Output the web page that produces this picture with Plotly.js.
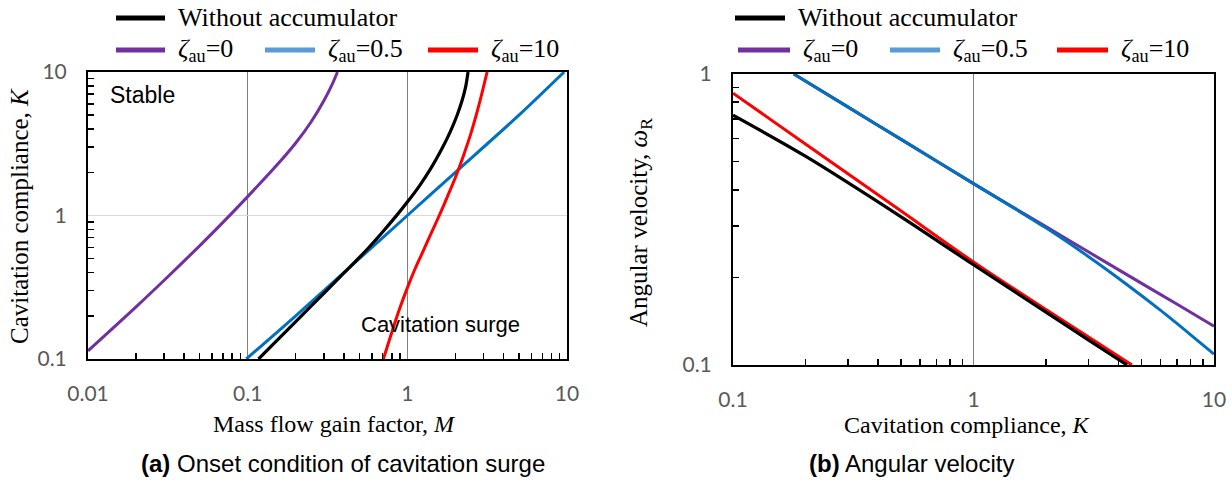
<!DOCTYPE html>
<html>
<head>
<meta charset="utf-8">
<script src="https://cdn.plot.ly/plotly-3.0.1.min.js"></script>
<style>
  html, body { margin: 0; padding: 0; background: #fff; }
  #chart { width: 1232px; height: 483px; }
</style>
</head>
<body>
<div id="chart"></div>
<script>
// ---------------- Data: panel (a) onset condition (M vs K) ----------------
const mNoAcc = [0.117, 0.15, 0.2, 0.3, 0.4, 0.555, 0.7, 0.85, 1.0, 1.2, 1.4, 1.63, 1.85, 2.05, 2.2, 2.32, 2.40];
const kNoAcc = [0.1, 0.132, 0.182, 0.287, 0.396, 0.575, 0.768, 0.99, 1.24, 1.63, 2.12, 2.86, 3.8, 5.0, 6.3, 7.9, 10];

const mZeta0 = [0.01, 0.02, 0.03, 0.05, 0.07, 0.1, 0.15, 0.2, 0.25, 0.3, 0.34, 0.365];
const kZeta0 = [0.114, 0.231, 0.354, 0.614, 0.895, 1.354, 2.2, 3.2, 4.5, 6.3, 8.3, 10];

const mZeta05 = [0.098, 0.2, 0.5, 1.0, 2.0, 5.0, 9.6];
const kZeta05 = [0.1, 0.2, 0.5, 1.0, 2.0, 5.0, 10];

const mZeta10 = [0.708, 0.794, 0.891, 1.0, 1.12, 1.26, 1.41, 1.585, 1.78, 2.0, 2.24, 2.51, 2.82, 3.16];
const kZeta10 = [0.1, 0.15, 0.221, 0.313, 0.427, 0.569, 0.752, 1.0, 1.35, 1.84, 2.59, 3.78, 5.99, 10];

// ---------------- Data: panel (b) angular velocity (K vs omega_R) ----------------
const kbNoAcc = [0.1, 0.2, 0.5, 1.0, 2.0, 3.0, 4.35];
const wNoAcc  = [0.722, 0.522, 0.323, 0.221, 0.152, 0.122, 0.1];

const kbZeta0 = [0.179, 0.3, 0.5, 1.0, 2.0, 3.0, 4.27, 7.0, 10];
const wZeta0  = [1.0, 0.771, 0.596, 0.42, 0.299, 0.245, 0.206, 0.162, 0.136];

const kbZeta05 = [0.179, 0.3, 0.5, 1.0, 2.0, 3.0, 4.27, 6.0, 8.0, 10];
const wZeta05  = [1.0, 0.771, 0.596, 0.42, 0.296, 0.236, 0.191, 0.154, 0.127, 0.109];

const kbZeta10 = [0.1, 0.2, 0.5, 1.0, 2.0, 4.56];
const wZeta10  = [0.859, 0.575, 0.338, 0.226, 0.155, 0.1];

// ---------------- Labels ----------------
const seriesNames = ['Without accumulator', '<i>ζ</i><sub>au</sub>=0', '<i>ζ</i><sub>au</sub>=0.5', '<i>ζ</i><sub>au</sub>=10'];
const xTicksA = [0.01, 0.1, 1, 10];
const xTickTextA = ['0.01', '0.1', '1', '10'];
const yTicksA = [0.1, 1, 10];
const yTickTextA = ['0.1', '1', '10'];
const xTicksB = [0.1, 1, 10];
const xTickTextB = ['0.1', '1', '10'];
const yTicksB = [0.1, 1];
const yTickTextB = ['0.1', '1'];

// ---------------- Styling ----------------
const W = 1232, H = 483;
const px = x => x / W;
const py = y => 1 - y / H;
const C_BLACK = '#000000', C_PURPLE = '#7030A0', C_BLUE = '#0070C0', C_RED = '#FF0000';
const C_BLUE_KEY = '#5B9BD5';
const SERIF = '"Liberation Serif", "Times New Roman", serif';
const SANS = '"Liberation Sans", Arial, sans-serif';
const TICKF = 'Lato, "Liberation Sans", sans-serif';

function minorVals(lo, hi) {
  const v = [];
  for (let e = lo; e < hi; e++) for (let d = 2; d <= 9; d++) v.push(d * Math.pow(10, e));
  return v;
}

function line(x, y, color, xa, ya, w) {
  return { x: x, y: y, xaxis: xa, yaxis: ya, type: 'scatter', mode: 'lines',
           line: { color: color, width: w || 3, shape: 'spline', smoothing: 0.8 },
           showlegend: false, hoverinfo: 'skip' };
}

const traces = [
  line(mZeta0, kZeta0, C_PURPLE, 'x', 'y'),
  line(mZeta05, kZeta05, C_BLUE, 'x', 'y'),
  line(mZeta10, kZeta10, C_RED, 'x', 'y'),
  line(mNoAcc, kNoAcc, C_BLACK, 'x', 'y', 3.2),
  line(kbZeta0, wZeta0, C_PURPLE, 'x2', 'y2'),
  line(kbZeta05, wZeta05, C_BLUE, 'x2', 'y2'),
  line(kbZeta10, wZeta10, C_RED, 'x2', 'y2'),
  line(kbNoAcc, wNoAcc, C_BLACK, 'x2', 'y2', 3.2)
];

function axis(domain, range, tv, tt, lo, hi, grid, gridcolor, anchor) {
  return {
    type: 'log', domain: domain, range: range, anchor: anchor,
    tickmode: 'array', tickvals: tv, ticktext: tt,
    ticks: '', showline: true, linecolor: '#000', linewidth: 2, mirror: true,
    showgrid: grid, gridcolor: gridcolor, gridwidth: 1.6,
    tickfont: { family: TICKF, size: 21, color: '#595959' },
    ticklabelstandoff: 15,
    zeroline: false, fixedrange: true,
    minor: { tickmode: 'array', tickvals: minorVals(lo, hi), ticks: 'inside',
             ticklen: 6, tickwidth: 1.5, tickcolor: '#000', showgrid: false }
  };
}

const xA = axis([px(88), px(567)], [-2, 1], xTicksA, xTickTextA, -2, 1, true, '#808080', 'y');
const yA = axis([py(359), py(72)], [-1, 1], yTicksA, yTickTextA, -1, 1, true, '#d9d9d9', 'x');
const xB = axis([px(733), px(1214)], [-1, 1], xTicksB, xTickTextB, -1, 1, true, '#808080', 'y2');
const yB = axis([py(365), py(74)], [-1, 0], yTicksB, yTickTextB, -1, 0, false, '#d9d9d9', 'x2');

// legend keys (drawn as layout shapes) and texts
const shapes = [];
const annotations = [];
function key(x0, x1, y, color, label) {
  shapes.push({ type: 'line', xref: 'paper', yref: 'paper', x0: px(x0), x1: px(x1), y0: py(y), y1: py(y),
                line: { color: color, width: 5 } });
  annotations.push({ xref: 'paper', yref: 'paper', x: px(x1 + 11), y: py(y), xanchor: 'left', yanchor: 'middle',
                     text: label, showarrow: false, font: { family: SERIF, size: 26, color: '#000' } });
}
key(116, 165, 18, C_BLACK, seriesNames[0]);
key(116, 165, 50, C_PURPLE, seriesNames[1]);
key(265, 315, 50, C_BLUE_KEY, seriesNames[2]);
key(428, 478, 50, C_RED, seriesNames[3]);
key(735, 785, 18, C_BLACK, seriesNames[0]);
key(738, 790, 50, C_PURPLE, seriesNames[1]);
key(890, 940, 50, C_BLUE_KEY, seriesNames[2]);
key(1057, 1108, 50, C_RED, seriesNames[3]);

function note(x, y, text, font, opts) {
  annotations.push(Object.assign({ xref: 'paper', yref: 'paper', x: px(x), y: py(y), showarrow: false,
                     xanchor: 'center', yanchor: 'middle', text: text, font: font }, opts || {}));
}
const titleFont = { family: SERIF, size: 24, color: '#000' };
const yTitleFont = { family: SERIF, size: 25, color: '#000' };
note(335, 424, 'Mass flow gain factor, <i>M</i>', titleFont);
note(20, 216, 'Cavitation compliance, <i>K</i>', yTitleFont, { textangle: -90 });
note(967, 425, 'Cavitation compliance, <i>K</i>', titleFont);
note(640, 222, 'Angular velocity, <i>ω</i><sub>R</sub>', yTitleFont, { textangle: -90 });
note(343, 463, '<b>(a)</b> Onset condition of cavitation surge', { family: SANS, size: 24, color: '#000' });
note(911, 463, '<b>(b)</b> Angular velocity', { family: SANS, size: 24, color: '#000' });
note(108, 95, 'Stable', { family: SANS, size: 23, color: '#000' }, { xanchor: 'left' });
note(522, 324, 'Cavitation surge', { family: SANS, size: 22, color: '#000' }, { xanchor: 'right' });

const layout = {
  width: W, height: H,
  margin: { l: 0, r: 0, t: 0, b: 0 },
  paper_bgcolor: '#fff', plot_bgcolor: '#fff',
  showlegend: false,
  xaxis: xA, yaxis: yA, xaxis2: xB, yaxis2: yB,
  shapes: shapes, annotations: annotations
};

Plotly.newPlot('chart', traces, layout, { displayModeBar: false, staticPlot: true });
</script>
</body>
</html>
